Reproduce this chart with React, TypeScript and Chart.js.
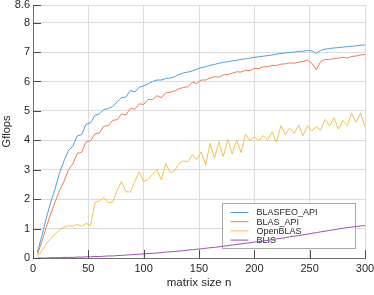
import React, { useEffect, useRef } from "react";
import { Chart, registerables } from "chart.js";

Chart.register(...registerables);

const matrixSizes = [
  4, 8, 12, 16, 20, 24, 28, 32, 36, 40, 44, 48, 52, 56, 60, 64, 68, 72, 76, 80,
  84, 88, 92, 96, 100, 104, 108, 112, 116, 120, 124, 128, 132, 136, 140, 144, 148, 152, 156, 160,
  164, 168, 172, 176, 180, 184, 188, 192, 196, 200, 204, 208, 212, 216, 220, 224, 228, 232, 236, 240,
  244, 248, 252, 256, 260, 264, 268, 272, 276, 280, 284, 288, 292, 296, 300,
];

const blasfeoApi = [
  0.2, 0.75, 1.35, 1.9, 2.35, 2.9, 3.3, 3.65, 3.8, 4.15, 4.2, 4.55, 4.6, 4.85, 4.9, 5.05, 5.08, 5.15, 5.3, 5.45,
  5.47, 5.7, 5.64, 5.8, 5.85, 5.92, 6.0, 6.05, 6.05, 6.1, 6.12, 6.16, 6.24, 6.29, 6.32, 6.36, 6.42, 6.47, 6.5, 6.55,
  6.58, 6.62, 6.65, 6.67, 6.7, 6.72, 6.75, 6.77, 6.8, 6.82, 6.84, 6.86, 6.88, 6.9, 6.93, 6.95, 6.97, 6.98, 7.0, 7.02,
  7.03, 7.05, 7.04, 6.95, 7.06, 7.1, 7.12, 7.14, 7.15, 7.17, 7.18, 7.2, 7.21, 7.23, 7.24,
];

const blasApi = [
  0.12, 0.55, 1.05, 1.5, 1.9, 2.3, 2.6, 3.0, 3.2, 3.55, 3.6, 3.95, 3.98, 4.22, 4.25, 4.48, 4.5, 4.68, 4.7, 4.9,
  4.86, 5.09, 5.06, 5.24, 5.22, 5.39, 5.38, 5.52, 5.45, 5.62, 5.63, 5.68, 5.75, 5.8, 5.82, 5.98, 5.93, 6.05, 6.05, 6.12,
  6.16, 6.15, 6.22, 6.24, 6.28, 6.33, 6.32, 6.38, 6.37, 6.45, 6.44, 6.5, 6.5, 6.55, 6.54, 6.59, 6.6, 6.63, 6.62, 6.66,
  6.68, 6.73, 6.62, 6.4, 6.68, 6.75, 6.74, 6.78, 6.8, 6.82, 6.8, 6.85, 6.87, 6.9, 6.92,
];

const openBlas = [
  0.05, 0.25, 0.48, 0.65, 0.82, 0.95, 1.05, 1.1, 1.08, 1.15, 1.07, 1.18, 1.1, 1.88, 1.94, 2.06, 1.88, 1.9, 2.3, 2.6,
  2.25, 2.25, 2.6, 2.93, 2.6, 2.67, 2.85, 3.01, 2.65, 3.22, 2.9, 2.97, 3.22, 3.3, 3.27, 3.52, 3.35, 3.61, 3.16, 3.9,
  3.39, 3.95, 3.44, 4.03, 3.53, 4.01, 3.58, 4.2, 3.99, 4.12, 3.98, 4.16, 4.01, 4.29, 3.93, 4.5, 4.2, 4.41, 4.24, 4.52,
  4.16, 4.5, 4.32, 4.46, 4.35, 4.71, 4.49, 4.77, 4.38, 4.67, 4.5, 4.92, 4.61, 4.92, 4.46,
];

const blis = [
  0.0, 0.0, 0.0, 0.01, 0.01, 0.01, 0.02, 0.02, 0.02, 0.03, 0.03, 0.04, 0.04, 0.05, 0.05, 0.06, 0.07, 0.07, 0.08, 0.09,
  0.1, 0.11, 0.12, 0.13, 0.14, 0.15, 0.16, 0.17, 0.18, 0.2, 0.21, 0.22, 0.24, 0.25, 0.27, 0.28, 0.3, 0.31, 0.33, 0.35,
  0.36, 0.38, 0.4, 0.42, 0.44, 0.46, 0.48, 0.5, 0.52, 0.54, 0.56, 0.58, 0.6, 0.62, 0.65, 0.67, 0.69, 0.72, 0.74, 0.76,
  0.79, 0.81, 0.84, 0.86, 0.89, 0.91, 0.94, 0.96, 0.99, 1.01, 1.03, 1.05, 1.07, 1.09, 1.1,
];

const seriesNames = ["BLASFEO_API", "BLAS_API", "OpenBLAS", "BLIS"];
const seriesValues = [blasfeoApi, blasApi, openBlas, blis];
const seriesColors = ["#4f9fdc", "#ec7c57", "#f4c14f", "#9b4fb0"];

const yTickValues = [0, 1, 2, 3, 4, 5, 6, 7, 8, 8.6];
const xTickValues = [0, 50, 100, 150, 200, 250, 300];

const FONT = '"Liberation Sans", Arial, Helvetica, sans-serif';

const legendPlugin = {
  id: "boxLegend",
  beforeDatasetsDraw(chart: any) {
    const ctx = chart.ctx;
    const area = chart.chartArea;
    const x0 = Math.round(area.right - 143) + 0.5;
    const y0 = Math.round(area.bottom - 55) + 0.5;
    const w = 133;
    const h = 45;
    ctx.save();
    ctx.fillStyle = "#ffffff";
    ctx.fillRect(x0, y0, w, h);
    ctx.strokeStyle = "#a8a8a8";
    ctx.lineWidth = 1;
    ctx.strokeRect(x0, y0, w, h);
    ctx.font = `9px ${FONT}`;
    ctx.textBaseline = "middle";
    ctx.textAlign = "left";
    seriesNames.forEach((name, i) => {
      const y = y0 + 9 + i * 9.2;
      ctx.strokeStyle = seriesColors[i];
      ctx.lineWidth = 1;
      ctx.beginPath();
      ctx.moveTo(x0 + 8, y);
      ctx.lineTo(x0 + 26, y);
      ctx.stroke();
      ctx.fillStyle = "#262626";
      ctx.fillText(name, x0 + 34, y + 0.5);
    });
    ctx.restore();
  },
};

const tickMarkPlugin = {
  id: "innerTicks",
  afterDraw(chart: any) {
    const ctx = chart.ctx;
    const area = chart.chartArea;
    const xs = chart.scales.x;
    const ys = chart.scales.y;
    ctx.save();
    ctx.strokeStyle = "#4a4a4a";
    ctx.lineWidth = 1;
    ctx.beginPath();
    yTickValues.forEach((v) => {
      const py = Math.round(ys.getPixelForValue(v)) + 0.5;
      ctx.moveTo(area.left, py);
      ctx.lineTo(area.left + 8, py);
    });
    xTickValues.forEach((v) => {
      const px = Math.round(xs.getPixelForValue(v)) + 0.5;
      ctx.moveTo(px, area.bottom);
      ctx.lineTo(px, area.bottom - 8);
    });
    ctx.stroke();
    ctx.restore();
  },
};

export default function App() {
  const canvasRef = useRef<HTMLCanvasElement | null>(null);

  useEffect(() => {
    if (!canvasRef.current) return;
    const chart = new Chart(canvasRef.current, {
      type: "line",
      data: {
        datasets: seriesNames.map((name, i) => ({
          label: name,
          data: matrixSizes.map((n, j) => ({ x: n, y: seriesValues[i][j] })),
          borderColor: seriesColors[i],
          backgroundColor: seriesColors[i],
          borderWidth: 1,
          pointRadius: 0,
          tension: 0,
          fill: false,
        })),
      },
      options: {
        animation: false,
        responsive: false,
        events: [],
        layout: { padding: { left: 0, top: 5, right: 9, bottom: 0 } },
        plugins: {
          legend: { display: false },
          tooltip: { enabled: false },
        },
        scales: {
          x: {
            type: "linear",
            min: 0,
            max: 300,
            afterBuildTicks: (scale: any) => {
              scale.ticks = xTickValues.map((v) => ({ value: v }));
            },
            afterFit: (scale: any) => {
              scale.height = 37;
              scale.paddingLeft = 0;
              scale.paddingRight = 0;
            },
            ticks: {
              color: "#262626",
              font: { family: FONT, size: 11 },
              padding: 4,
              maxRotation: 0,
            },
            grid: { color: "#dcdcdc", lineWidth: 1, drawTicks: false },
            border: { color: "#6e6e6e", width: 1 },
            title: {
              display: true,
              text: "matrix size n",
              color: "#262626",
              font: { family: FONT, size: 11.5 },
              padding: { top: 0, bottom: 5 },
            },
          },
          y: {
            type: "linear",
            min: 0,
            max: 8.6,
            afterBuildTicks: (scale: any) => {
              scale.ticks = yTickValues.map((v) => ({ value: v }));
            },
            afterFit: (scale: any) => {
              scale.width = 33;
              scale.paddingTop = 0;
              scale.paddingBottom = 0;
            },
            ticks: {
              color: "#262626",
              font: { family: FONT, size: 11 },
              padding: 3,
              callback: (v: any) => String(v),
            },
            grid: { color: "#dcdcdc", lineWidth: 1, drawTicks: false },
            border: { color: "#6e6e6e", width: 1 },
            title: {
              display: true,
              text: "Gflops",
              color: "#262626",
              font: { family: FONT, size: 11 },
              padding: { top: 0, bottom: 0 },
            },
          },
        },
      },
      plugins: [legendPlugin, tickMarkPlugin],
    });
    return () => chart.destroy();
  }, []);

  return (
    <div style={{ position: "fixed", left: 0, top: 0, width: 374, height: 295, background: "#fff" }}>
      <canvas ref={canvasRef} width={374} height={295} style={{ display: "block" }} />
    </div>
  );
}
